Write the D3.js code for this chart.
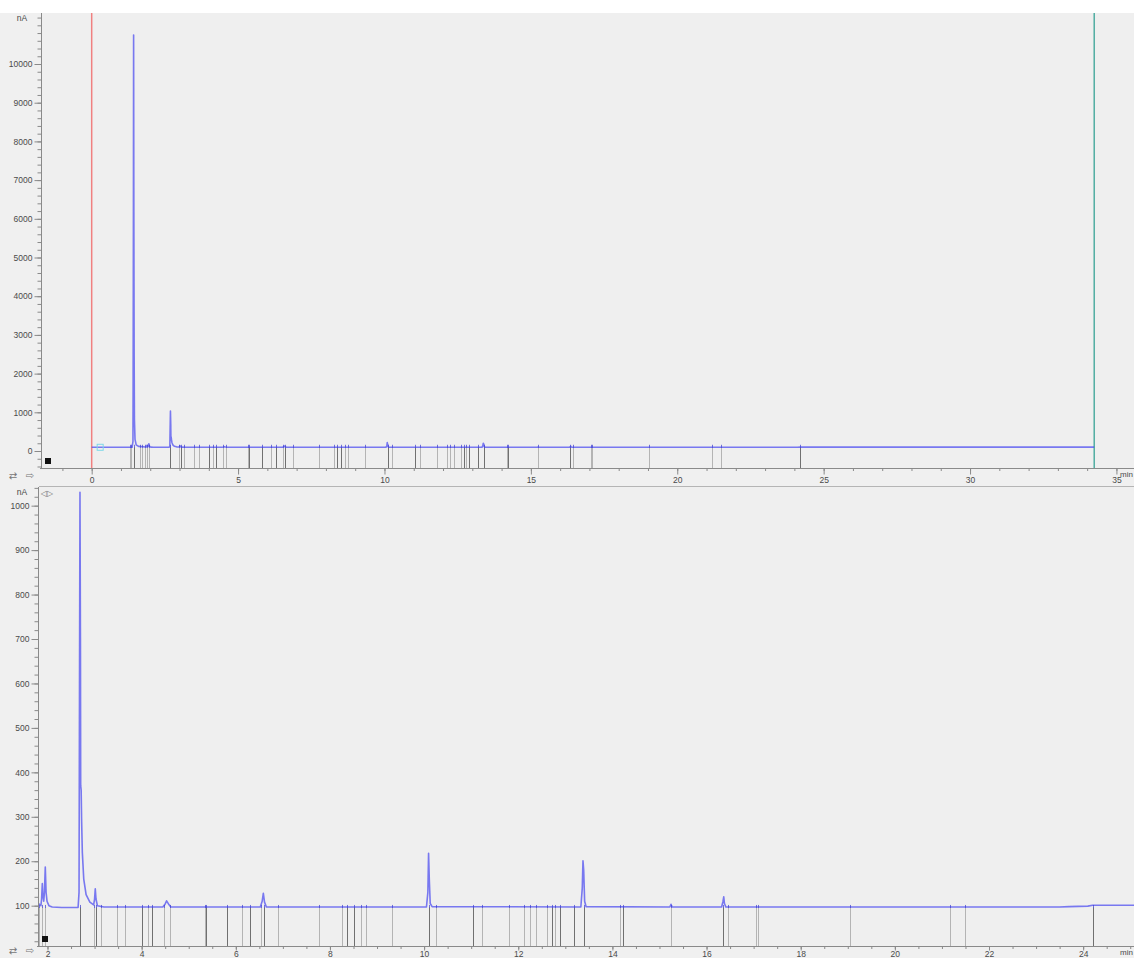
<!DOCTYPE html>
<html>
<head>
<meta charset="utf-8">
<script src="https://cdn.jsdelivr.net/npm/d3@7"></script>
<style>
  html, body { margin: 0; padding: 0; background: #f0f0f0; }
  svg { display: block; }
  text { font-family: "Liberation Sans", Arial, sans-serif; }
</style>
</head>
<body>
<svg id="chart" width="1134" height="958"></svg>
<script>
// ---- Data ----
// Chromatogram trace: retention time (min) and signal (nA)
const traceTime = [0, 1.38, 1.41, 1.415, 1.425, 1.432, 1.44, 1.45, 1.46, 1.48, 1.52, 1.6, 1.75, 1.84, 1.86, 1.875, 1.89, 1.90, 1.92, 1.935, 1.953, 1.97, 1.99, 2.03, 2.1, 2.3, 2.65, 2.67, 2.68, 2.69, 2.70, 2.705, 2.715, 2.725, 2.74, 2.77, 2.82, 2.9, 2.98, 3.0, 3.015, 3.03, 3.06, 3.2, 4.45, 4.5, 4.53, 4.57, 4.62, 6.52, 6.56, 6.585, 6.61, 6.65, 10.05, 10.08, 10.095, 10.11, 10.13, 10.17, 13.33, 13.36, 13.375, 13.39, 13.41, 13.44, 15.22, 15.245, 15.27, 16.32, 16.35, 16.365, 16.38, 16.41, 23.5, 23.7, 24.1, 24.2, 34.24];
const traceValue = [96, 96, 250, 1500, 6000, 10750, 6200, 2500, 800, 300, 160, 120, 110, 102, 100, 115, 150, 125, 110, 130, 187, 130, 110, 100, 97, 96, 96, 130, 600, 1030, 700, 370, 360, 290, 220, 160, 125, 108, 102, 115, 138, 115, 100, 97, 97, 104, 111, 104, 97, 97, 110, 128, 108, 97, 97, 130, 218, 160, 105, 98, 97, 140, 201, 180, 110, 98, 97, 103, 97, 97, 110, 120, 105, 97, 97, 98, 99, 101, 101];

// Integration marks (min): darker peak marks and lighter boundary marks
const peakMarks = [1.44, 2.69, 3.04, 4.01, 4.23, 5.37, 5.82, 6.31, 6.60, 8.37, 8.51, 10.11, 11.03, 12.72, 12.88, 13.18, 13.40, 14.22, 16.35, 24.20];
const boundaryMarks = [1.30, 1.35, 1.65, 1.73, 1.82, 1.89, 1.95, 2.99, 3.14, 3.48, 3.65, 4.14, 4.47, 4.60, 5.34, 6.14, 6.53, 6.89, 7.76, 8.26, 8.65, 8.76, 9.32, 10.26, 11.23, 11.80, 12.12, 12.24, 12.37, 12.62, 12.77, 14.17, 15.24, 16.45, 17.04, 17.09, 19.04, 21.18, 21.50];

// Run window (min)
const runStart = 0;
const runEnd = 34.24;

// Tick labels
const topXTicks = [0, 5, 10, 15, 20, 25, 30, 35];
const topYTicks = [0, 1000, 2000, 3000, 4000, 5000, 6000, 7000, 8000, 9000, 10000];
const botXTicks = [2, 4, 6, 8, 10, 12, 14, 16, 18, 20, 22, 24];
const botYTicks = [100, 200, 300, 400, 500, 600, 700, 800, 900, 1000];

const trace = traceTime.map((t, i) => ({ t: t, v: traceValue[i] }));

// ---- Drawing ----
const svg = d3.select("#chart");
svg.append("rect").attr("x", 0).attr("y", 0).attr("width", 1134).attr("height", 13).attr("fill", "#ffffff");

const axisColor = "#8a8a8a";
const textColor = "#4a4a4a";
const traceColor = "#4a4af0";

function panel(cfg) {
  const g = svg.append("g");
  const x = d3.scaleLinear().domain(cfg.xDomain).range([cfg.left, cfg.right]);
  const y = d3.scaleLinear().domain(cfg.yDomain).range([cfg.bottom, cfg.top]);

  g.append("rect").attr("x", cfg.left).attr("y", cfg.top)
    .attr("width", cfg.right - cfg.left).attr("height", cfg.bottom - cfg.top)
    .attr("fill", "#efefef");

  const clipId = "clip" + cfg.id;
  svg.append("clipPath").attr("id", clipId).append("rect")
    .attr("x", cfg.left).attr("y", cfg.top)
    .attr("width", cfg.right - cfg.left).attr("height", cfg.bottom - cfg.top);
  const plot = g.append("g").attr("clip-path", `url(#${clipId})`);

  if (cfg.frameTop) {
    g.append("line").attr("x1", cfg.left).attr("x2", cfg.right)
      .attr("y1", cfg.top - 0.5).attr("y2", cfg.top - 0.5)
      .attr("stroke", "#b5b5b5").attr("stroke-width", 1);
  }

  const baseY = y(traceValue[1]);
  const visible = t => t >= cfg.xDomain[0] && t <= cfg.xDomain[1];
  plot.selectAll(".bm").data(boundaryMarks.filter(visible)).enter().append("line")
    .attr("x1", d => Math.round(x(d)) + 0.5).attr("x2", d => Math.round(x(d)) + 0.5)
    .attr("y1", baseY).attr("y2", cfg.bottom)
    .attr("stroke", "#b4b4b4").attr("stroke-width", 1);
  plot.selectAll(".pm").data(peakMarks.filter(visible)).enter().append("line")
    .attr("x1", d => Math.round(x(d)) + 0.5).attr("x2", d => Math.round(x(d)) + 0.5)
    .attr("y1", baseY).attr("y2", cfg.bottom)
    .attr("stroke", "#707070").attr("stroke-width", 1);

  if (cfg.runLines) {
    plot.append("line").attr("x1", x(runStart)).attr("x2", x(runStart))
      .attr("y1", cfg.top).attr("y2", cfg.bottom)
      .attr("stroke", "#f08080").attr("stroke-width", 1.5);
    plot.append("line").attr("x1", x(runEnd)).attr("x2", x(runEnd))
      .attr("y1", cfg.top).attr("y2", cfg.bottom)
      .attr("stroke", "#2a9d8f").attr("stroke-width", 1.2);
  }

  const line = d3.line().x(d => x(d.t)).y(d => y(d.v));
  plot.append("path").datum(trace).attr("d", line)
    .attr("fill", "none").attr("stroke", traceColor)
    .attr("stroke-width", 1.6).attr("stroke-opacity", 0.72)
    .attr("stroke-linejoin", "round");

  plot.selectAll(".tk").data(peakMarks.concat(boundaryMarks).filter(visible)).enter().append("line")
    .attr("x1", d => Math.round(x(d)) + 0.5).attr("x2", d => Math.round(x(d)) + 0.5)
    .attr("y1", baseY - 2.5).attr("y2", baseY + 0.5)
    .attr("stroke", "#3a3ad0").attr("stroke-width", 1).attr("stroke-opacity", 0.7);

  const yMinor = d3.range(cfg.yMinor[0], cfg.yMinor[1] + 1e-9, cfg.yMinor[2]);
  const yAxisMinor = d3.axisLeft(y).tickValues(yMinor).tickSize(4).tickFormat("");
  const yAxisMajor = d3.axisLeft(y).tickValues(cfg.yTicks).tickSize(7).tickPadding(2).tickFormat(d3.format("d"));
  const gyMinor = g.append("g").attr("transform", `translate(${cfg.left - 0.5},0)`).call(yAxisMinor);
  const gyMajor = g.append("g").attr("transform", `translate(${cfg.left - 0.5},0)`).call(yAxisMajor);
  gyMajor.select(".domain").remove();
  gyMinor.select(".domain").attr("d", `M0,${cfg.top}V${cfg.bottom}`);

  const xMinor = d3.range(cfg.xMinor[0], cfg.xMinor[1] + 1e-9, cfg.xMinor[2]);
  const xAxisMinor = d3.axisBottom(x).tickValues(xMinor).tickSize(2.5).tickFormat("");
  const xAxisMajor = d3.axisBottom(x).tickValues(cfg.xTicks).tickSize(cfg.xMajorSize).tickPadding(cfg.xPad).tickFormat(d3.format("d"));
  const gxMinor = g.append("g").attr("transform", `translate(0,${cfg.bottom + 0.5})`).call(xAxisMinor);
  const gxMajor = g.append("g").attr("transform", `translate(0,${cfg.bottom + 0.5})`).call(xAxisMajor);
  gxMajor.select(".domain").remove();
  gxMinor.select(".domain").attr("d", `M${cfg.left - 2},0H${cfg.right}`);

  [gyMinor, gyMajor, gxMinor, gxMajor].forEach(a => {
    a.selectAll("line").attr("stroke", axisColor);
    a.selectAll(".domain").attr("stroke", axisColor);
    a.selectAll("text").attr("fill", textColor).style("font-size", "8.5px")
      .style("font-family", '"Liberation Sans", Arial, sans-serif');
  });

  g.append("text").attr("x", 22).attr("y", cfg.top + 8).attr("text-anchor", "middle")
    .attr("fill", textColor).style("font-size", "8.5px").text("nA");
  g.append("text").attr("x", 1133).attr("y", cfg.bottom + cfg.minY)
    .attr("text-anchor", "end").attr("fill", textColor).style("font-size", "8px").text("min");

  g.append("rect").attr("x", cfg.left + cfg.sqDx).attr("y", cfg.bottom - 10)
    .attr("width", 6).attr("height", 6).attr("fill", "#111");

  g.append("text").attr("x", 13).attr("y", cfg.bottom + cfg.arrowDy).attr("text-anchor", "middle")
    .attr("fill", "#777").style("font-size", "10px").style("font-family", "DejaVu Sans").text("⇄");
  g.append("text").attr("x", 30).attr("y", cfg.bottom + cfg.arrowDy).attr("text-anchor", "middle")
    .attr("fill", "#777").style("font-size", "10px").style("font-family", "DejaVu Sans").text("⇨");

  return { g, x, y };
}

const topPanel = panel({
  id: "top", left: 42, right: 1134, top: 13, bottom: 468,
  xDomain: [-1.697, 35.6], yDomain: [-439, 11318],
  xTicks: topXTicks, xMinor: [-1, 35, 1], xMajorSize: 6, xPad: 2,
  yTicks: topYTicks, yMinor: [-400, 11200, 200],
  runLines: true, frameTop: false, minY: 9, sqDx: 3, arrowDy: 11
});
topPanel.g.append("rect").attr("x", topPanel.x(0.29) - 3).attr("y", topPanel.y(96) - 3)
  .attr("width", 6).attr("height", 6).attr("fill", "none")
  .attr("stroke", "#7fd8e8").attr("stroke-width", 1);

const botPanel = panel({
  id: "bot", left: 39, right: 1134, top: 487, bottom: 946,
  xDomain: [1.8195, 25.08], yDomain: [9.3, 1042],
  xTicks: botXTicks, xMinor: [2, 25, 0.5], xMajorSize: 4, xPad: 0,
  yTicks: botYTicks, yMinor: [20, 1040, 20],
  runLines: false, frameTop: true, minY: 9, sqDx: 3, arrowDy: 8
});
botPanel.g.append("text").attr("x", 47).attr("y", 496).attr("text-anchor", "middle")
  .attr("fill", "#777").style("font-size", "8px").style("font-family", "DejaVu Sans").text("◁▷");
</script>
</body>
</html>
